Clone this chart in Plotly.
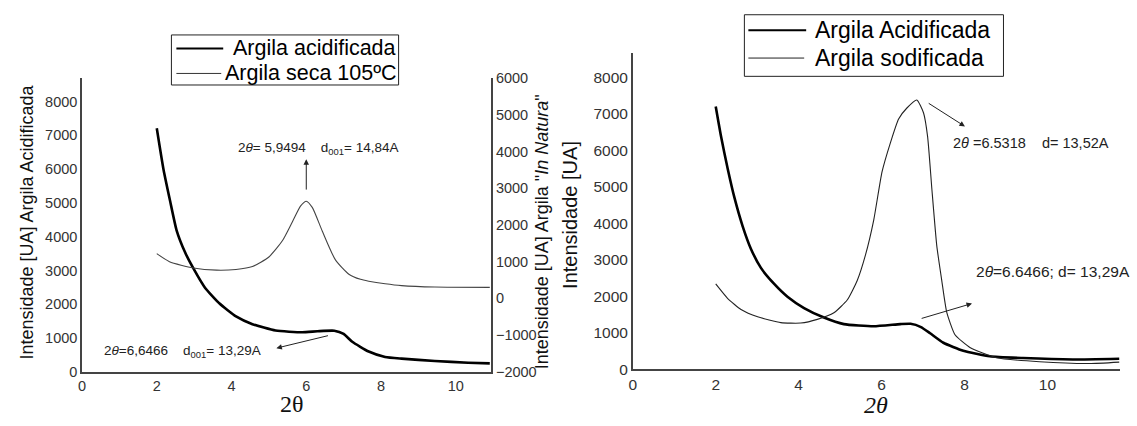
import plotly.graph_objects as go

W, H = 1137, 426
NB = "\u00a0"

# ---- Left panel: acidified clay (left axis) and clay dried at 105 ºC (right axis)
acid_l_x = [2.0, 2.18, 2.36, 2.53, 2.76, 2.98, 3.29, 3.68, 4.12, 4.56, 5.18, 5.89,
            6.3, 6.75, 7.0, 7.23, 7.67, 8.11, 8.55, 9.44, 10.33, 10.91]
acid_l_y = [7210, 5990, 5040, 4190, 3530, 3060, 2490, 2020, 1640, 1410, 1220, 1170,
            1200, 1215, 1120, 890, 600, 440, 390, 320, 270, 250]

seca_x = [2.0, 2.34, 2.98, 3.6, 4.12, 4.56, 5.0, 5.36, 5.63, 5.85, 6.0, 6.16,
          6.43, 6.78, 7.14, 7.45, 7.67, 8.11, 8.55, 9.44, 10.91]
seca_y = [1220, 1000, 830, 770, 790, 870, 1130, 1570, 2090, 2520, 2650, 2480,
          1830, 1050, 660, 520, 470, 400, 350, 310, 300]

# ---- Right panel: acidified clay vs sodium-exchanged clay
acid_r_x = [2.0, 2.13, 2.29, 2.45, 2.65, 2.85, 3.09, 3.41, 3.73, 4.13, 4.61, 5.09,
            5.81, 6.45, 6.7, 6.95, 7.17, 7.49, 7.97, 8.61, 9.41, 10.61, 11.73]
acid_r_y = [7200, 6370, 5490, 4710, 3920, 3300, 2780, 2340, 1990, 1680, 1420, 1240,
            1180, 1240, 1250, 1160, 990, 730, 510, 360, 310, 270, 290]

sod_x = [2.0, 2.29, 2.61, 3.01, 3.57, 4.05, 4.45, 4.85, 5.17, 5.41, 5.61, 5.81,
         6.01, 6.21, 6.41, 6.61, 6.85, 7.01, 7.11, 7.21, 7.33, 7.45, 7.57, 7.77,
         8.13, 8.77, 9.81, 11.01, 11.73]
sod_y = [2340, 1940, 1640, 1440, 1280, 1270, 1370, 1550, 1900, 2430, 3130, 4090,
         5410, 6200, 6860, 7160, 7380, 7030, 6370, 4970, 3390, 2440, 1570, 950,
         600, 320, 210, 160, 200]

left_names = ["Argila acidificada", "Argila seca 105ºC"]
right_names = ["Argila Acidificada", "Argila sodificada"]

# Axis ranges and tick values
left_x_range = [0, 10.95]
left_y_range = [0, 8690]
left_y2_range = [-2000, 6000]
right_x_range = [0, 11.75]
right_y_range = [0, 8660]
x_ticks = [0, 2, 4, 6, 8, 10]
y_ticks = [0, 1000, 2000, 3000, 4000, 5000, 6000, 7000, 8000]
y2_ticks = [-2000, -1000, 0, 1000, 2000, 3000, 4000, 5000, 6000]

SANS = "Liberation Sans, Arial, sans-serif"
SERIF = "Liberation Serif, Times New Roman, serif"

THICK = dict(color="black", width=2.6)
THIN_L = dict(color="#444", width=1.1)
THIN_R = dict(color="#222", width=1.1)


def px(x):
    return x / W


def py(y):
    return 1 - y / H


fig = go.Figure()

fig.add_trace(go.Scatter(x=acid_l_x, y=acid_l_y, mode="lines", name=left_names[0],
                         line=dict(shape="spline", smoothing=0.5, **THICK),
                         xaxis="x", yaxis="y"))
fig.add_trace(go.Scatter(x=seca_x, y=seca_y, mode="lines", name=left_names[1],
                         line=dict(shape="spline", smoothing=0.6, **THIN_L),
                         xaxis="x", yaxis="y2"))
fig.add_trace(go.Scatter(x=acid_r_x, y=acid_r_y, mode="lines", name=right_names[0],
                         line=dict(shape="spline", smoothing=0.5, **THICK),
                         xaxis="x3", yaxis="y3"))
fig.add_trace(go.Scatter(x=sod_x, y=sod_y, mode="lines", name=right_names[1],
                         line=dict(shape="spline", smoothing=0.5, **THIN_R),
                         xaxis="x3", yaxis="y3"))

axis_common = dict(showgrid=False, zeroline=False, showline=True, linecolor="#444",
                   linewidth=1.5, ticks="", color="#333")

gap = NB * 4
annotations = [
    # axis titles
    dict(text="Intensidade [UA] Argila Acidificada", x=px(23), y=py(222), textangle=-90,
         font=dict(family=SANS, size=18, color="#111")),
    dict(text='Intensidade [UA] Argila "<i>In Natura</i>"', x=px(540), y=py(233), textangle=-90,
         font=dict(family=SANS, size=18, color="#111")),
    dict(text="Intensidade [UA]", x=px(568), y=py(215), textangle=-90,
         font=dict(family=SANS, size=20, color="#111")),
    dict(text="2θ", x=px(289), y=py(411), font=dict(family=SERIF, size=24, color="#111")),
    dict(text="<i>2θ</i>", x=px(875), y=py(412), font=dict(family=SERIF, size=24, color="#111")),
    # peak labels
    dict(text=f"2<i>θ</i>= 5,9494{gap}d<sub>001</sub>= 14,84A", x=px(233), y=py(146),
         xanchor="left", font=dict(family=SANS, size=13.5, color="#222")),
    dict(text=f"2<i>θ</i>=6,6466{gap}d<sub>001</sub>= 13,29A", x=px(98), y=py(357),
         xanchor="left", font=dict(family=SANS, size=13.5, color="#222")),
    dict(text=f"2<i>θ</i> =6.5318{gap}d= 13,52A", x=px(950), y=py(140), xanchor="left",
         font=dict(family=SANS, size=14.5, color="#222")),
    dict(text="2<i>θ</i>=6.6466; d= 13,29A", x=px(973), y=py(274), xanchor="left",
         font=dict(family=SANS, size=15.5, color="#222")),
]

# legend labels
legend_rows = [
    (left_names[0], 228, 42, 21.5),
    (left_names[1], 220, 68, 21.5),
    (right_names[0], 812, 23, 23),
    (right_names[1], 812, 52, 23),
]
for name, lx, ly, size in legend_rows:
    annotations.append(dict(text=name, x=px(lx), y=py(ly), xanchor="left",
                            font=dict(family=SANS, size=size, color="black")))

for a in annotations:
    a.update(xref="paper", yref="paper", showarrow=False)
    a.setdefault("xanchor", "center")
    a.setdefault("yanchor", "middle")

# arrows pointing at the reflections
arrows = [
    dict(xref="x", yref="y", x=6.0, y=6290, ax=6.0, ay=5350),
    dict(xref="x", yref="y", x=5.2, y=700, ax=6.62, ay=1080),
    dict(xref="x3", yref="y3", x=8.01, y=6655, ax=7.10, ay=7314),
    dict(xref="x3", yref="y3", x=8.18, y=1805, ax=6.93, ay=1384),
]
for a in arrows:
    a.update(text="", showarrow=True, axref=a["xref"], ayref=a["yref"],
             arrowhead=2, arrowsize=1.1, arrowwidth=1, arrowcolor="#222", standoff=0)
    annotations.append(a)

# legend frames and line samples
shapes = []
for x0, y0, x1, y1 in [(168, 28, 396, 80), (743, 7, 1003, 71)]:
    shapes.append(dict(type="rect", xref="paper", yref="paper",
                       x0=px(x0), x1=px(x1), y0=py(y1), y1=py(y0),
                       line=dict(color="#222", width=1), fillcolor="white", layer="above"))
for x0, x1, y, style in [(173, 220, 42, dict(color="black", width=2)),
                         (173, 218, 68, dict(color="#333", width=1)),
                         (747, 805, 23, dict(color="black", width=2)),
                         (747, 803, 52, dict(color="#222", width=1))]:
    shapes.append(dict(type="line", xref="paper", yref="paper",
                       x0=px(x0), x1=px(x1), y0=py(y), y1=py(y), line=style, layer="above"))

fig.update_layout(
    width=W, height=H,
    margin=dict(l=0, r=0, t=0, b=0),
    paper_bgcolor="white", plot_bgcolor="white",
    showlegend=False,
    font=dict(family=SANS, color="#333"),
    xaxis=dict(domain=[px(78.3), px(489)], anchor="y", range=left_x_range,
               tickvals=x_ticks, tickfont=dict(size=14.5), **axis_common),
    yaxis=dict(domain=[py(378), py(73)], anchor="x", range=left_y_range,
               tickvals=y_ticks, tickfont=dict(size=14.5), **axis_common),
    yaxis2=dict(overlaying="y", anchor="x", side="right", range=left_y2_range,
                tickvals=y2_ticks, tickfont=dict(size=14.5), **axis_common),
    xaxis3=dict(domain=[px(631), px(1120)], anchor="y3", range=right_x_range,
                tickvals=x_ticks, tickfont=dict(size=15.5), **axis_common),
    yaxis3=dict(domain=[py(375.5), py(47)], anchor="x3", range=right_y_range,
                tickvals=y_ticks, tickfont=dict(size=15.5), **axis_common),
    shapes=shapes,
    annotations=annotations,
)

fig.write_html("out.html")
